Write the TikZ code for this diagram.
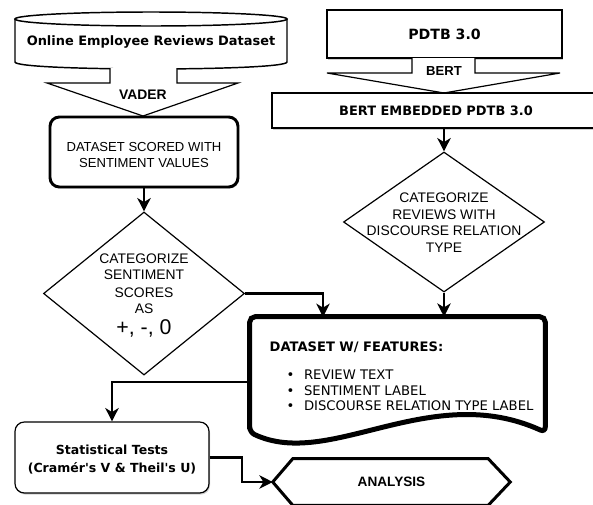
\documentclass[tikz,border=0pt]{standalone}
\usepackage{fontspec}
\setmainfont{DejaVu Sans}
\newfontfamily\arfont{Liberation Sans}
\usetikzlibrary{arrows.meta,shapes.geometric,shadows,calc}
\begin{document}
\begin{tikzpicture}[x=0.75pt,y=-0.75pt,
  thinline/.style={line width=0.9pt},
  conn/.style={line width=2.1pt,-{Stealth[length=10pt,width=10pt,inset=3pt]}},
  shad/.style={drop shadow={shadow xshift=0.8pt,shadow yshift=-1.2pt,opacity=0.3,fill=black!60}},
  boldlbl/.style={font=\fontsize{9.7}{12}\selectfont\bfseries},
  arlbl/.style={font=\arfont\fontsize{10.4}{12}\selectfont,align=center},
]
\clip (0,0) rectangle (593,504);
\fill[white] (0,0) rectangle (593,504);

% ---------- left column ----------
% cylinder
\draw[line width=1.1pt,fill=white] (15,19) -- (15,62) .. controls (15,71.3) and (287,71.3) .. (287,62) -- (287,19);
\draw[line width=1.1pt,fill=white] (151,19) ellipse [x radius=136,y radius=7];
\node[boldlbl] (db) at (151,42) {Online Employee Reviews Dataset};

% VADER block arrow
\draw[thinline,fill=white] (110,68) -- (110,83) -- (47,83) -- (143,116) -- (238,83) -- (177,83) -- (177,68);
\node[font=\arfont\bfseries\fontsize{10.4}{12}\selectfont] (vader) at (143,95) {VADER};

% scored box
\node[draw,line width=2.2pt,rounded corners=7pt,minimum width=141pt,minimum height=52.5pt,fill=white,shad] (sc) at (144,152) {};
\node[arlbl,font=\arfont\fontsize{9.8}{12.5}\selectfont] (sct) at (144,155) {DATASET SCORED WITH\\SENTIMENT VALUES};

% diamond 1
\node[diamond,draw,thinline,fill=white,minimum width=150.75pt,minimum height=122.25pt,inner sep=0pt] (d1) at (144,293.5) {};
\node[arlbl] (d1t) at (144,284) {CATEGORIZE\\SENTIMENT\\[1.5pt]SCORES\\AS};
\node[font=\arfont\fontsize{16}{16}\selectfont] (d1s) at (144,328) {+, -, 0};
\draw[conn] (sc.south) -- (d1.north);

% ---------- right column ----------
\node[draw,thinline,fill=white,shad,minimum width=176.25pt,minimum height=36pt,font=\fontsize{10.6}{12}\selectfont\bfseries] (pd) at (444.5,34) {PDTB 3.0};
\draw[thinline,fill=white] (412,58) -- (412,73) -- (327,73) -- (444,93) -- (560,73) -- (475,73) -- (475,58);
\node[font=\arfont\bfseries\fontsize{9.8}{12}\selectfont] (bert) at (444,71) {BERT};
\node[draw,thinline,fill=white,shad,minimum width=246pt,minimum height=26.25pt,boldlbl] (be) at (436,110.5) {BERT EMBEDDED PDTB 3.0};

\node[diamond,draw,thinline,fill=white,minimum width=150.75pt,minimum height=105pt,inner sep=0pt] (d2) at (444,222) {};
\node[arlbl,font=\arfont\fontsize{10.4}{12.5}\selectfont] (d2t) at (444,222.5) {CATEGORIZE\\REVIEWS WITH\\DISCOURSE RELATION\\TYPE};
\draw[conn] (be.south -| d2.north) -- (d2.north);

% ---------- document ----------
\node[minimum width=221.25pt,minimum height=86.25pt,inner sep=0pt] (doc) at (397.5,374.5) {};
\coordinate (j1) at (323,317);
\draw[conn] (d1.east) -| (j1);
\draw[conn] (d2.south) -- (d2.south |- doc.north);
\draw[line width=3.75pt,fill=white,rounded corners=4pt] (doc.south west) -- (doc.north west) -- (doc.north east) -- (doc.south east) .. controls (430,380) and (330,470) .. (doc.south west) -- cycle;
\node[anchor=west,font=\fontsize{9.8}{12}\selectfont\bfseries] (dt) at (265,347) {DATASET W/ FEATURES:};
\node[anchor=west,align=left,font=\fontsize{9.9}{11.6}\selectfont] (dl) at (282,390.5) {\makebox[13pt][l]{•}REVIEW TEXT\\\makebox[13pt][l]{•}SENTIMENT LABEL\\\makebox[13pt][l]{•}DISCOURSE RELATION TYPE LABEL};

% ---------- statistical tests ----------
\node[draw,thinline,rounded corners=7pt,fill=white,shad,minimum width=145.5pt,minimum height=53.25pt] (st) at (112,457.5) {};
\node[align=center,font=\fontsize{9.4}{13.5}\selectfont\bfseries] (stt) at (112,460) {Statistical Tests\\(Cramér\textquotesingle s V \& Theil\textquotesingle s U)};
\coordinate (j4) at (250,382);
\draw[conn] (j4) -| (st.north);

% ---------- analysis ----------
\node[minimum width=177.75pt,minimum height=34.5pt,inner sep=0pt,font=\arfont\bfseries\fontsize{10.2}{12}\selectfont] (an) at (391.5,482) {ANALYSIS};
\draw[line width=2.25pt] (an.west) -- ($(an.north west)+(20,0)$) -- ($(an.north east)+(-22,0)$) -- (an.east) -- ($(an.south east)+(-22,0)$) -- ($(an.south west)+(20,0)$) -- cycle;
\coordinate (j3) at (242,470);
\draw[conn] (st.east) -| (j3) |- (an.west);
\end{tikzpicture}
\end{document}
